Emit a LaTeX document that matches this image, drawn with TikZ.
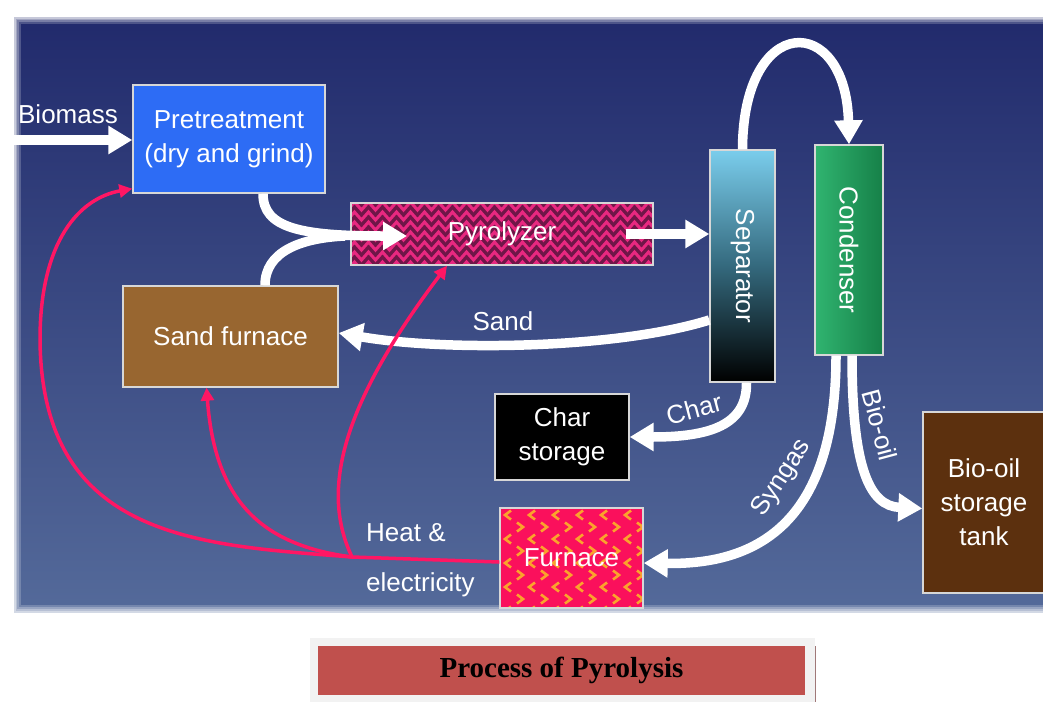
\documentclass[tikz,border=0pt]{standalone}
\usepackage{fontspec}
\usepackage{graphicx}
\setmainfont{Liberation Serif}
\setsansfont{Liberation Sans}
\usetikzlibrary{arrows.meta,decorations.pathmorphing}

\definecolor{panelTop}{RGB}{33,42,108}
\definecolor{panelBot}{RGB}{84,106,154}
\definecolor{preBlue}{RGB}{45,108,245}
\definecolor{sandBrown}{RGB}{152,102,48}
\definecolor{tankBrown}{RGB}{92,48,14}
\definecolor{pyroDark}{RGB}{112,22,72}
\definecolor{pyroPink}{RGB}{232,40,128}
\definecolor{furnRed}{RGB}{250,16,92}
\definecolor{furnOrange}{RGB}{250,162,44}
\definecolor{sepTop}{RGB}{122,205,236}
\definecolor{sepMid}{RGB}{52,105,125}
\definecolor{condLeft}{RGB}{48,180,112}
\definecolor{condRight}{RGB}{22,128,72}
\definecolor{heatRed}{RGB}{255,22,100}
\definecolor{edgeGray}{RGB}{215,215,215}
\definecolor{capRed}{RGB}{192,80,77}
\definecolor{capGray}{RGB}{242,242,242}
\definecolor{capEdge}{RGB}{160,120,120}

\begin{document}
\begin{tikzpicture}[x=1pt, y=-1pt,
    unit/.style={draw=edgeGray, line width=1.4pt, inner sep=0pt, text=white, align=center,
      font=\sffamily\fontsize{26}{34}\selectfont},
    lbl/.style={text=white, inner sep=0pt, font=\sffamily\fontsize{26}{34}\selectfont},
    flow/.style={draw=white, line width=9.5pt, -{Triangle[width=27pt,length=24pt]}},
    flowline/.style={draw=white, line width=9.5pt},
    heat/.style={draw=heatRed, line width=3.5pt, -{Triangle[width=13pt,length=13pt]}},
    zig/.style={draw=pyroPink, line width=3pt, decorate,
      decoration={zigzag, segment length=14pt, amplitude=4pt}},
    chev/.style={draw=furnOrange, line width=2.6pt}]
    \useasboundingbox (0,0) rectangle (1043,702);
    % Background panel
    \fill[white] (0,0) rectangle (1043,702);
    \shade[top color=panelTop, bottom color=panelBot] (14,17) rectangle (1056,612);
    \foreach \w/\o in {14/0.2, 10/0.25, 6/0.3, 3/0.4}
        \draw[white, opacity=\o, line width=\w pt] (14,17) rectangle (1056,612);
    % Nodes
    \node[unit, fill=preBlue, minimum width=192pt, minimum height=108pt] (pre) at (229,139)
        {Pretreatment\\(dry and grind)};
    \node[unit, fill=pyroDark, minimum width=302pt, minimum height=62pt,
        path picture={\foreach \k in {0,...,6}
            \draw[zig] ([yshift={-\k*10pt-3pt}]path picture bounding box.north west)
                -- ([yshift={-\k*10pt-3pt}]path picture bounding box.north east);}] (pyro) at (502,234) {Pyrolyzer};
    \node[unit, top color=sepTop, bottom color=black, middle color=sepMid,
        minimum width=65pt, minimum height=232pt] (sep) at (742.5,266) {\rotatebox{-90}{Separator}};
    \node[unit, left color=condLeft, right color=condRight,
        minimum width=68pt, minimum height=210pt] (cond) at (849,250) {\rotatebox{-90}{Condenser}};
    \node[unit, fill=sandBrown, minimum width=215pt, minimum height=101pt] (sandf) at (230.5,336.5) {Sand furnace};
    \node[unit, fill=black, minimum width=134pt, minimum height=86pt] (char) at (562,437) {Char\\storage};
    \node[unit, fill=tankBrown, minimum width=122pt, minimum height=181pt] (tank) at (984,502.5)
        {Bio-oil\\storage\\tank};
    \node[unit, fill=furnRed, minimum width=143pt, minimum height=100pt,
        path picture={
            \foreach \r in {0,2,...,8} \foreach \c in {0,...,6}
                \draw[chev] ([xshift={\c*24pt+8pt}, yshift={-\r*12pt-7pt}]path picture bounding box.north west)
                    ++(3pt,4.5pt) -- ++(-6pt,-4.5pt) -- ++(6pt,-4.5pt);
            \foreach \r in {1,3,...,7} \foreach \c in {0,...,6}
                \draw[chev] ([xshift={\c*24pt+20pt}, yshift={-\r*12pt-7pt}]path picture bounding box.north west)
                    ++(-3pt,4.5pt) -- ++(6pt,-4.5pt) -- ++(-6pt,-4.5pt);}] (furn) at (571.5,558) {Furnace};
    % Labels
    \node[lbl] (biolbl) at (68,114) {Biomass};
    \node[lbl] (sandlbl) at (503,321) {Sand};
    \node[lbl, rotate=15] (charlbl) at (694,409) {Char};
    \node[lbl, rotate=57] (synlbl) at (782,478) {Syngas};
    \node[lbl, rotate=-75] (oillbl) at (880,425) {Bio-oil};
    \node[lbl, align=left, anchor=west, font=\sffamily\fontsize{26}{50}\selectfont] (heatlbl) at (366,560)
        {Heat \&\\electricity};
    % Material flows
    \coordinate (bin) at (6,140);
    \coordinate (pyroin) at (407,236);
    \coordinate (merge) at (345,236);
    \draw[flow] (bin) -- (pre.west |- bin);
    \draw[flow] ([xshift=34pt]pre.south) .. controls (263,228) and (300,236) .. (pyroin);
    \draw[flowline] ([xshift=34.5pt]sandf.north) .. controls (265,252) and (300,238) .. (merge);
    \draw[flow] ([xshift=-28pt]pyro.east) -- (pyro.east -| sep.west);
    \draw[flow] (sep.north) .. controls (743,12) and (846,12) .. (cond.north);
    \draw[flow] ([yshift=-54pt]sep.west) .. controls (620,348) and (450,352) .. ([yshift=3.5pt]sandf.east);
    \draw[flow] ([xshift=4pt]sep.south) .. controls (747,425) and (710,437) .. (char.east);
    \draw[flow] ([xshift=-13pt]cond.south) .. controls (836,520) and (760,565) .. ([yshift=-5pt]furn.east);
    \draw[flow] ([xshift=3pt]cond.south) .. controls (852,470) and (870,506) .. ([yshift=-6pt]tank.west);
    % Heat and electricity
    \coordinate (hub) at (352,557);
    \draw[heat, -] ([yshift=-4pt]furn.west) -- (hub);
    \draw[heat] (hub) .. controls (200,545) and (42,540) .. (40,340)
        .. controls (40,240) and (80,198) .. ([yshift=5pt]pre.south west);
    \draw[heat] (hub) .. controls (260,545) and (215,500) .. ([xshift=-24pt]sandf.south);
    \draw[heat] (hub) .. controls (325,500) and (330,420) .. ([xshift=-55pt]pyro.south);
    % Caption
    \fill[capGray] (310,638) rectangle (815,702);
    \draw[capEdge, line width=1.5pt] (815.5,646) -- (815.5,702);
    \node[fill=capRed, minimum width=487pt, minimum height=49pt, inner sep=0pt,
        font=\bfseries\fontsize{29}{32}\selectfont] (cap) at (561.5,670.5) {Process of Pyrolysis};
\end{tikzpicture}
\end{document}
